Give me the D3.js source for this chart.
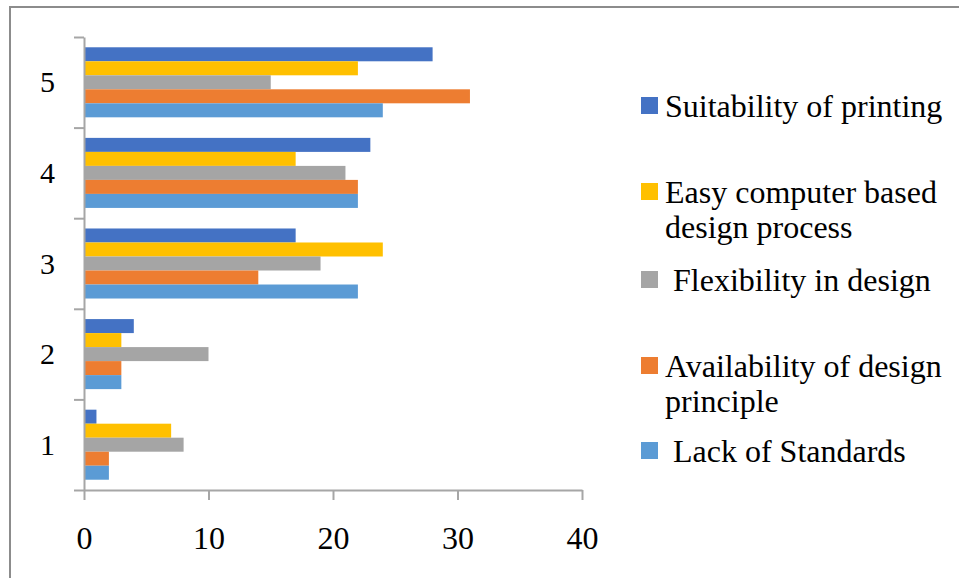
<!DOCTYPE html>
<html>
<head>
<meta charset="utf-8">
<script src="https://cdn.jsdelivr.net/npm/d3@7"></script>
<style>
  html, body { margin: 0; padding: 0; background: #fff; }
  svg { display: block; }
  text { font-family: "Liberation Serif", "Times New Roman", serif; fill: #000; }
</style>
</head>
<body>
<script>
// Categories (drawn top to bottom: 5 ... 1)
const categories = ["5", "4", "3", "2", "1"];

// Series, in legend / in-group order (top to bottom)
const seriesNames = [
  "Suitability of printing",
  "Easy computer based design process",
  "Flexibility in design",
  "Availability of design principle",
  "Lack of Standards"
];
const legendLines = [
  ["Suitability of printing"],
  ["Easy computer based", "design process"],
  ["Flexibility in design"],
  ["Availability of design", "principle"],
  ["Lack of Standards"]
];
const seriesColors = ["#4472C4", "#FFC000", "#A5A5A5", "#ED7D31", "#5B9BD5"];

// Values per series, indexed like categories (5, 4, 3, 2, 1)
const suitability  = [28, 23, 17, 4, 1];
const easyDesign   = [22, 17, 24, 3, 7];
const flexibility  = [15, 21, 19, 10, 8];
const availability = [31, 22, 14, 3, 2];
const lackStandards = [24, 22, 22, 3, 2];
const seriesValues = [suitability, easyDesign, flexibility, availability, lackStandards];

const xTicks = [0, 10, 20, 30, 40];

const W = 959, H = 578;
const svg = d3.select("body").append("svg").attr("width", W).attr("height", H);

// outer frame
svg.append("rect")
  .attr("x", 10).attr("y", 7).attr("width", W + 10).attr("height", H + 10)
  .attr("fill", "none").attr("stroke", "#8c8c8c").attr("stroke-width", 2);

const plot = { left: 84, right: 582, top: 37, bottom: 490 };

const x = d3.scaleLinear().domain([0, 40]).range([plot.left, plot.right]);
const y = d3.scaleBand().domain(categories).range([plot.top, plot.bottom])
  .paddingInner(0.227).paddingOuter(0.1135);
const ySeries = d3.scaleBand().domain(seriesNames).range([0, y.bandwidth()]);
const yEdge = d3.scaleLinear().domain([0, categories.length]).range([plot.bottom, plot.top]);

// bars
const rows = categories.map((c, ci) => ({
  cat: c,
  vals: seriesNames.map((s, si) => ({ s, si, v: seriesValues[si][ci] }))
}));
const groups = svg.append("g").selectAll("g").data(rows).join("g")
  .attr("transform", d => `translate(0,${y(d.cat)})`);
groups.selectAll("rect").data(d => d.vals).join("rect")
  .attr("x", x(0))
  .attr("y", d => ySeries(d.s))
  .attr("width", d => x(d.v) - x(0))
  .attr("height", ySeries.bandwidth())
  .attr("fill", d => seriesColors[d.si]);

const axisColor = "#a6a6a6";

// category axis with ticks between categories
const yAxis = svg.append("g").attr("transform", `translate(${plot.left},0)`)
  .call(d3.axisLeft(yEdge).tickValues(d3.range(categories.length + 1))
    .tickSize(10).tickSizeOuter(0).tickFormat(""));
yAxis.selectAll("path, line").attr("stroke", axisColor).attr("stroke-width", 2);

svg.append("g").selectAll("text").data(categories).join("text")
  .attr("x", 55).attr("y", d => y(d) + y.bandwidth() / 2 + 10)
  .attr("text-anchor", "end").attr("font-size", 30)
  .text(d => d);

// value axis
const xAxis = svg.append("g").attr("transform", `translate(0,${plot.bottom})`)
  .call(d3.axisBottom(x).tickValues(xTicks).tickSize(10).tickSizeOuter(0).tickFormat(d3.format("d")));
xAxis.selectAll("path, line").attr("stroke", axisColor).attr("stroke-width", 2);
xAxis.selectAll("text")
  .attr("y", 58.5).attr("dy", null)
  .attr("font-size", 32)
  .style("font-family", '"Liberation Serif", "Times New Roman", serif')
  .attr("fill", "#000");

// legend
const legendTop = [97, 183, 271, 357, 442];
const legendIndent = [0, 0, 8, 0, 8];
const legend = svg.append("g").selectAll("g").data(seriesNames).join("g")
  .attr("transform", (d, i) => `translate(641,${legendTop[i]})`);
legend.append("rect")
  .attr("width", 17).attr("height", 17)
  .attr("fill", (d, i) => seriesColors[i]);
legend.append("text")
  .attr("font-size", 32)
  .attr("y", 20)
  .selectAll("tspan").data((d, i) => legendLines[i].map(t => ({ t, i })))
  .join("tspan")
  .attr("x", d => 24 + legendIndent[d.i])
  .attr("dy", (d, k) => k === 0 ? 0 : 34.5)
  .text(d => d.t);
</script>
</body>
</html>
